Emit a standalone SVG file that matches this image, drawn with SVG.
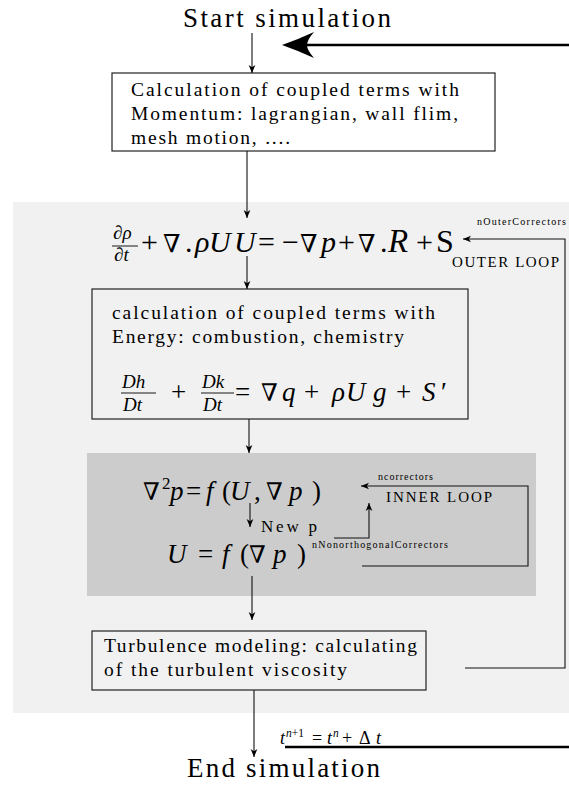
<svg xmlns="http://www.w3.org/2000/svg" width="569" height="785" viewBox="0 0 569 785">
<style>
.t{font-family:"Liberation Serif","DejaVu Serif",serif;fill:#000}
.i{font-style:italic}
.nab{font-family:"DejaVu Serif","Liberation Serif",serif;font-style:normal}
.ln{stroke:#111;stroke-width:1.1;fill:none}
.bx{stroke:#222;stroke-width:1.2;fill:none}
.thick{stroke:#000;stroke-width:2.6;fill:none}
.bar{stroke:#000;stroke-width:0.9}
</style>
<defs>
<marker id="a" viewBox="0 0 10 10" refX="10" refY="5" markerWidth="8" markerHeight="8" orient="auto" markerUnits="userSpaceOnUse">
<path d="M0,0.8 L10,5 L0,9.2 L2.8,5 z" fill="#000"/>
</marker>
</defs>
<rect id="outer-region" x="13" y="202" width="556" height="511" fill="#f1f1f1"/>
<rect id="inner-region" x="87" y="453" width="449" height="143" fill="#cccccc"/>

<g id="start"><text class="t" x="183" y="27" font-size="27" textLength="208" lengthAdjust="spacing">Start simulation</text></g>

<g id="box1">
<rect class="bx" x="112" y="73" width="383" height="78" fill="#fff"/>
<text class="t" font-size="19.5">
<tspan x="131" y="96" textLength="328" lengthAdjust="spacing">Calculation of coupled terms with</tspan>
<tspan x="131" y="120" textLength="327" lengthAdjust="spacing">Momentum: lagrangian, wall flim,</tspan>
<tspan x="131" y="144" textLength="159" lengthAdjust="spacing">mesh motion, ....</tspan>
</text>
</g>

<g id="eq1">
<text class="t i" font-size="19"><tspan x="113" y="239">∂ρ</tspan><tspan x="114" y="261">∂t</tspan></text>
<line class="bar" x1="112" y1="246" x2="138" y2="246"/>
<text class="t" font-size="30" y="252">
<tspan x="141">+</tspan><tspan class="nab" x="163" font-size="25">∇</tspan><tspan x="185">.</tspan><tspan class="i" x="195">ρ</tspan><tspan class="i" x="209">U</tspan><tspan class="i" x="234">U</tspan><tspan x="258">=</tspan><tspan x="282">−</tspan><tspan class="nab" x="300" font-size="25">∇</tspan><tspan class="i" x="321">p</tspan><tspan x="338">+</tspan><tspan class="nab" x="358" font-size="25">∇</tspan><tspan x="380">.</tspan><tspan class="i" x="388" font-size="33">R</tspan><tspan x="416">+</tspan><tspan x="436" font-size="32">S</tspan>
</text>
</g>

<g id="box2">
<rect class="bx" x="92" y="289" width="376" height="130"/>
<text class="t" font-size="19.5">
<tspan x="112" y="319" textLength="323" lengthAdjust="spacing">calculation of coupled terms with</tspan>
<tspan x="112" y="343" textLength="292" lengthAdjust="spacing">Energy: combustion, chemistry</tspan>
</text>
<text class="t i" font-size="19"><tspan x="122" y="388">Dh</tspan><tspan x="123" y="411">Dt</tspan><tspan x="202" y="388">Dk</tspan><tspan x="203" y="411">Dt</tspan></text>
<line class="bar" x1="121" y1="393" x2="156" y2="393"/>
<line class="bar" x1="201" y1="393" x2="234" y2="393"/>
<text class="t" font-size="27" y="401">
<tspan x="171">+</tspan><tspan x="235">=</tspan><tspan class="nab" x="261" font-size="24">∇</tspan><tspan class="i" x="282">q</tspan><tspan x="304">+</tspan><tspan class="i" x="332">ρ</tspan><tspan class="i" x="346">U</tspan><tspan class="i" x="373">g</tspan><tspan x="396">+</tspan><tspan class="i" x="422">S</tspan><tspan x="441">′</tspan>
</text>
</g>

<g id="pressure">
<text class="t" font-size="27" y="500">
<tspan class="nab" x="143" font-size="24">∇</tspan><tspan x="162" y="489" font-size="17">2</tspan><tspan class="i" x="170" y="500">p</tspan><tspan x="186">=</tspan><tspan class="i" x="206">f</tspan><tspan x="222">(</tspan><tspan class="i" x="230">U</tspan><tspan x="254">,</tspan><tspan class="nab" x="266" font-size="24">∇</tspan><tspan class="i" x="289">p</tspan><tspan x="312">)</tspan>
</text>
</g>

<g id="newp"><text class="t" x="261" y="532" font-size="17" textLength="56" lengthAdjust="spacing">New p</text></g>

<g id="velocity">
<text class="t" font-size="27" y="563">
<tspan class="i" x="167">U</tspan><tspan x="198">=</tspan><tspan class="i" x="222">f</tspan><tspan x="240">(</tspan><tspan class="nab" x="249" font-size="24">∇</tspan><tspan class="i" x="273">p</tspan><tspan x="297">)</tspan>
</text>
</g>

<g id="box3">
<rect class="bx" x="92" y="631" width="334" height="59"/>
<text class="t" font-size="19.5">
<tspan x="104" y="652" textLength="313" lengthAdjust="spacing">Turbulence modeling: calculating</tspan>
<tspan x="104" y="676" textLength="243" lengthAdjust="spacing">of the turbulent viscosity</tspan>
</text>
</g>

<g id="end"><text class="t" x="187" y="777" font-size="27" textLength="193" lengthAdjust="spacing">End simulation</text></g>

<g id="labels">
<text class="t" x="477" y="225" font-size="10" textLength="89" lengthAdjust="spacing">nOuterCorrectors</text>
<text class="t" x="452" y="267" font-size="15" textLength="107" lengthAdjust="spacing">OUTER LOOP</text>
<text class="t" x="378" y="480" font-size="10" textLength="55" lengthAdjust="spacing">ncorrectors</text>
<text class="t" x="386" y="502" font-size="15" textLength="106" lengthAdjust="spacing">INNER LOOP</text>
<text class="t" x="312" y="548" font-size="10" textLength="136" lengthAdjust="spacing">nNonorthogonalCorrectors</text>
<text class="t" font-size="18" y="744"><tspan class="i" x="280">t</tspan><tspan x="286" y="737" font-size="11.5"><tspan class="i">n</tspan>+1</tspan><tspan x="312" y="744">=</tspan><tspan class="i" x="327">t</tspan><tspan class="i" x="333" y="737" font-size="11.5">n</tspan><tspan x="342" y="744">+</tspan><tspan x="359">Δ</tspan><tspan class="i" x="376">t</tspan></text>
</g>

<g id="connectors">
<line class="ln" x1="252" y1="33" x2="252" y2="73" marker-end="url(#a)"/>
<line class="ln" x1="247" y1="151" x2="247" y2="218" marker-end="url(#a)"/>
<line class="ln" x1="247" y1="256" x2="247" y2="289" marker-end="url(#a)"/>
<line class="ln" x1="249" y1="419" x2="249" y2="453" marker-end="url(#a)"/>
<line class="ln" x1="250" y1="503" x2="250" y2="527" marker-end="url(#a)"/>
<polyline class="ln" points="334,538 369,538 369,503" marker-end="url(#a)"/>
<polyline class="ln" points="362,566 528,566 528,486 361,486" marker-end="url(#a)"/>
<line class="ln" x1="252" y1="576" x2="252" y2="620" marker-end="url(#a)"/>
<line class="ln" x1="254" y1="690" x2="254" y2="757" marker-end="url(#a)"/>
<polyline class="ln" points="465,668 565,668 565,239 463,239" marker-end="url(#a)"/>
<line class="thick" x1="306" y1="45" x2="569" y2="45"/>
<path d="M282,45 Q299,39 314,32 Q307,40 307,45 Q307,50 314,58 Q299,51 282,45 Z" fill="#000"/>
<line class="thick" x1="285" y1="747" x2="569" y2="747"/>
</g>
</svg>
